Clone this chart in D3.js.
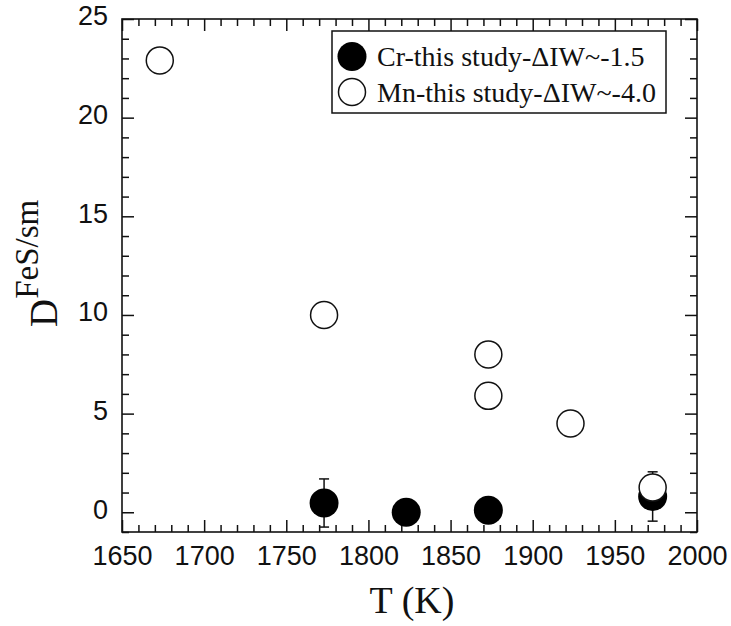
<!DOCTYPE html>
<html>
<head>
<meta charset="utf-8">
<script src="https://cdn.jsdelivr.net/npm/d3@7"></script>
<style>
  body { margin: 0; background: #fff; }
  svg { display: block; }
  .tick text { font-family: "Liberation Sans", Arial, sans-serif; font-size: 27px; fill: #111; }
  .domain { display: none; }
  .tick line { stroke: #111; stroke-width: 1.5; }
</style>
</head>
<body>
<svg></svg>
<script>
var width = 731, height = 626;

// data
var xTicks = [1650, 1700, 1750, 1800, 1850, 1900, 1950, 2000];
var yTicks = [0, 5, 10, 15, 20, 25];

var mnT = [1673, 1773, 1873, 1873, 1923, 1973];
var mnD = [22.9, 10.0, 8.0, 5.9, 4.5, 1.25];

var crT = [1773, 1823, 1873, 1973];
var crD = [0.47, 0.0, 0.1, 0.8];
var crErr = [1.22, 0, 0, 1.25];

var legendLabels = ["Cr-this study-\u0394IW~-1.5", "Mn-this study-\u0394IW~-4.0"];

var plotL = 122, plotR = 697, plotT = 19, plotB = 532;

var svg = d3.select("svg")
  .attr("width", width)
  .attr("height", height);

var x = d3.scaleLinear().domain([1650, 2000]).range([plotL, plotR]);
var y = d3.scaleLinear().domain([-1, 25]).range([plotB, plotT]);

var xMinor = d3.range(1650, 2001, 10).filter(function(d){ return d % 50 !== 0; });
var yMinor = d3.range(-1, 26, 1).filter(function(d){ return d % 5 !== 0; });

// minor ticks on all four sides
svg.append("g").attr("transform", "translate(0," + plotB + ")")
  .call(d3.axisBottom(x).tickValues(xMinor).tickSize(-7).tickFormat(""));
svg.append("g").attr("transform", "translate(0," + plotT + ")")
  .call(d3.axisTop(x).tickValues(xMinor).tickSize(-7).tickFormat(""));
svg.append("g").attr("transform", "translate(" + plotL + ",0)")
  .call(d3.axisLeft(y).tickValues(yMinor).tickSize(-7).tickFormat(""));
svg.append("g").attr("transform", "translate(" + plotR + ",0)")
  .call(d3.axisRight(y).tickValues(yMinor).tickSize(-7).tickFormat(""));

// major ticks
var xb = svg.append("g").attr("transform", "translate(0," + plotB + ")")
  .call(d3.axisBottom(x).tickValues(xTicks).tickSize(-12).tickPadding(0).tickFormat(d3.format("d")));
xb.selectAll(".tick text").attr("y", 33).attr("dy", 0);
svg.append("g").attr("transform", "translate(0," + plotT + ")")
  .call(d3.axisTop(x).tickValues(xTicks).tickSize(-12).tickFormat(""));
var yl = svg.append("g").attr("transform", "translate(" + plotL + ",0)")
  .call(d3.axisLeft(y).tickValues(yTicks).tickSize(-12).tickFormat(d3.format("d")));
yl.selectAll(".tick text").attr("x", -14).attr("dy", "0.22em");
svg.append("g").attr("transform", "translate(" + plotR + ",0)")
  .call(d3.axisRight(y).tickValues(yTicks).tickSize(-12).tickFormat(""));

// frame
svg.append("rect")
  .attr("x", plotL).attr("y", plotT)
  .attr("width", plotR - plotL).attr("height", plotB - plotT)
  .attr("fill", "none").attr("stroke", "#111").attr("stroke-width", 1.6);

// Cr error bars
var crData = crT.map(function(t, i){ return {t: t, d: crD[i], e: crErr[i]}; });
var errs = svg.append("g").selectAll("g")
  .data(crData.filter(function(d){ return d.e > 0; }))
  .enter().append("g")
  .attr("stroke", "#111").attr("stroke-width", 1.5);
errs.append("line")
  .attr("x1", function(d){ return x(d.t); }).attr("x2", function(d){ return x(d.t); })
  .attr("y1", function(d){ return y(d.d - d.e); }).attr("y2", function(d){ return y(d.d + d.e); });
errs.append("line")
  .attr("x1", function(d){ return x(d.t) - 5; }).attr("x2", function(d){ return x(d.t) + 5; })
  .attr("y1", function(d){ return y(d.d + d.e); }).attr("y2", function(d){ return y(d.d + d.e); });
errs.append("line")
  .attr("x1", function(d){ return x(d.t) - 5; }).attr("x2", function(d){ return x(d.t) + 5; })
  .attr("y1", function(d){ return y(d.d - d.e); }).attr("y2", function(d){ return y(d.d - d.e); });

// Cr filled points
svg.append("g").selectAll("circle")
  .data(crData)
  .enter().append("circle")
  .attr("cx", function(d){ return x(d.t); })
  .attr("cy", function(d){ return y(d.d); })
  .attr("r", 14.5)
  .attr("fill", "#000");

// Mn open points
var mnData = mnT.map(function(t, i){ return {t: t, d: mnD[i]}; });
svg.append("g").selectAll("circle")
  .data(mnData)
  .enter().append("circle")
  .attr("cx", function(d){ return x(d.t); })
  .attr("cy", function(d){ return y(d.d); })
  .attr("r", 13.5)
  .attr("fill", "#fff")
  .attr("stroke", "#111")
  .attr("stroke-width", 1.5);

// legend
var lg = svg.append("g");
lg.append("rect")
  .attr("x", 332).attr("y", 31).attr("width", 334).attr("height", 82)
  .attr("fill", "#fff").attr("stroke", "#111").attr("stroke-width", 1.5);
lg.append("circle").attr("cx", 352).attr("cy", 56.5).attr("r", 14.5).attr("fill", "#000");
lg.append("circle").attr("cx", 352).attr("cy", 92).attr("r", 13.5)
  .attr("fill", "#fff").attr("stroke", "#111").attr("stroke-width", 1.5);
lg.selectAll("text.lab")
  .data(legendLabels)
  .enter().append("text")
  .attr("class", "lab")
  .attr("x", 377)
  .attr("y", function(d, i){ return 65.5 + i * 36; })
  .attr("font-family", "'Liberation Serif', 'Times New Roman', serif")
  .attr("font-size", 28)
  .attr("fill", "#111")
  .text(function(d){ return d; });

// axis titles
svg.append("text")
  .attr("x", 412).attr("y", 613)
  .attr("text-anchor", "middle")
  .attr("font-family", "'Liberation Serif', 'Times New Roman', serif")
  .attr("font-size", 38)
  .attr("fill", "#111")
  .text("T (K)");

var yt = svg.append("text")
  .attr("transform", "translate(57,327) rotate(-90)")
  .attr("font-family", "'Liberation Serif', 'Times New Roman', serif")
  .attr("fill", "#111");
yt.append("tspan").attr("font-size", 39).text("D");
yt.append("tspan").attr("font-size", 33).attr("dy", -19).text("FeS/sm");
</script>
</body>
</html>
